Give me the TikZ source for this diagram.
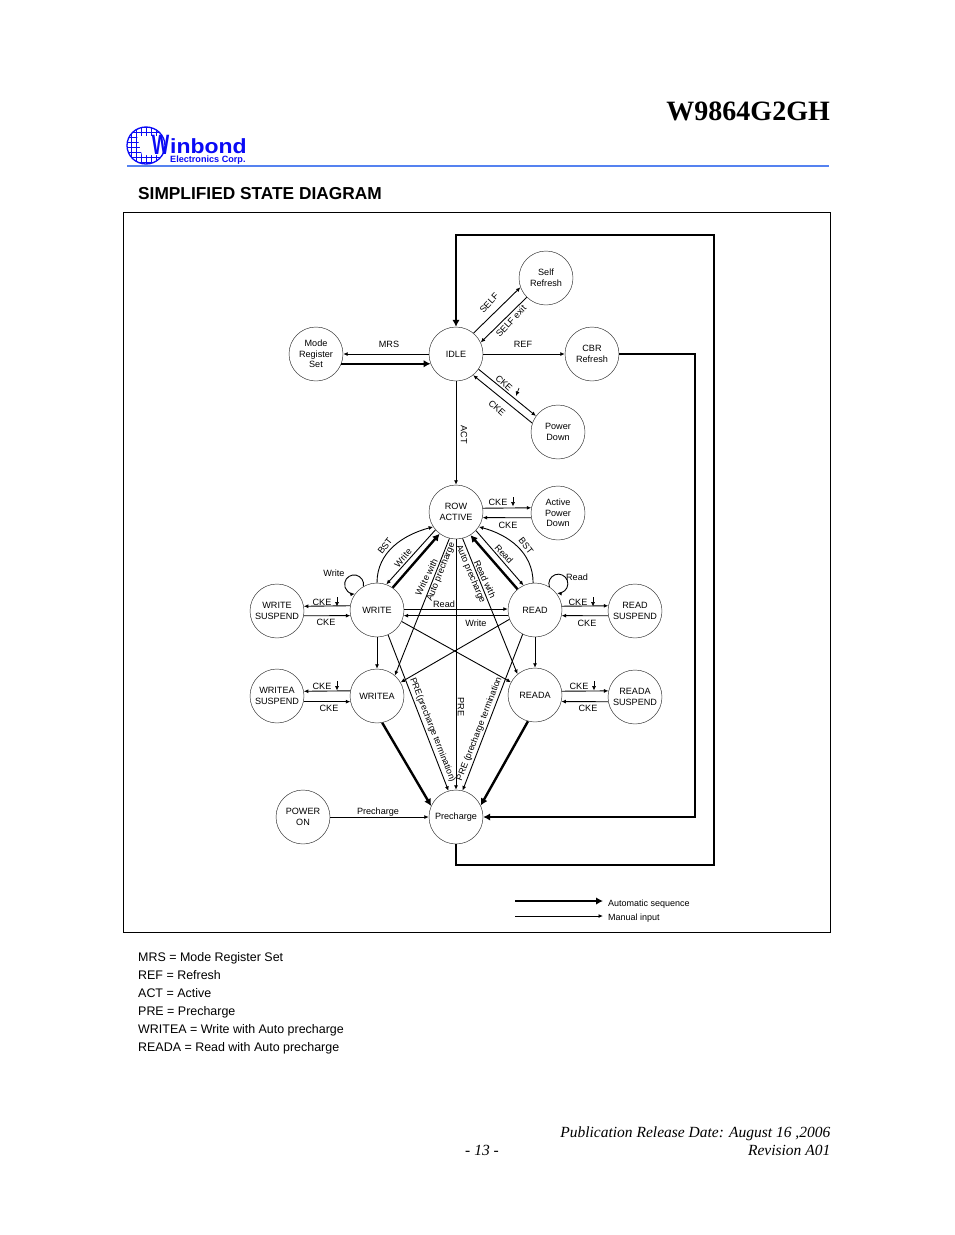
\documentclass[tikz,border=0pt]{standalone}
\usepackage{fontspec}
\setmainfont{Liberation Sans}
\newfontfamily\timesfont{Liberation Serif}
\usetikzlibrary{arrows.meta}
\definecolor{logoBlue}{RGB}{10,10,245}
\definecolor{ruleBlue}{RGB}{85,130,240}

\begin{document}
\begin{tikzpicture}
[x=1pt,y=-1pt,
  stateDecorate/.style={shape=circle,minimum size=54pt,inner sep=0pt,draw=black!85,line width=0.45pt,align=center,font=\fontsize{9.1}{10.7}\selectfont},%
  labelDecorate/.style={inner sep=0pt,font=\fontsize{9.1}{10.7}\selectfont},%
  pageDecorate/.style={inner sep=0pt,anchor=base west},%
  lineDecorate/.style={-{Latex[length=4.5pt,width=4pt]},line width=0.9pt},%
  thickDecorate/.style={-{Latex[length=7pt,width=7.5pt]},line width=2.4pt}]
\useasboundingbox (0,0) rectangle (954,1235);
%% page furniture
\node[pageDecorate,anchor=base east,font=\timesfont\bfseries\fontsize{28}{30}\selectfont] (title) at (830,120) {W9864G2GH};
\node[pageDecorate,font=\bfseries\fontsize{17.3}{20}\selectfont] (heading) at (138,199) {SIMPLIFIED STATE DIAGRAM};
\draw[ruleBlue,line width=1.2pt] (127,166) -- (829,166);
\draw[line width=0.8pt] (123.5,212) rectangle (830.5,932.5);
%% logo
\begin{scope}
\clip (146,145.5) ellipse (19 and 18.5);
\foreach \i in {0,...,8}
{
  \draw[logoBlue,line width=0.7pt] (126+5*\i,126) -- (126+5*\i,166);
  \draw[logoBlue,line width=0.7pt] (126,127+5*\i) -- (168,127+5*\i);
}
\fill[white] (137,136) -- (168,136) -- (168,155) -- (142,155) -- cycle;
\end{scope}
\draw[logoBlue,line width=1.3pt] (146,145.5) ellipse (19 and 18.5);
\node[inner sep=0pt,text=logoBlue,xscale=0.66,font=\bfseries\fontsize{28}{28}\selectfont] (logoW) at (160.5,145) {W};
\node[pageDecorate,text=logoBlue,xscale=1.12,font=\bfseries\fontsize{20.5}{21}\selectfont] (logoName) at (170,153) {inbond};
\node[pageDecorate,text=logoBlue,font=\bfseries\fontsize{9.1}{9}\selectfont] (logoCorp) at (170,162) {Electronics Corp.};
%% nodes or vertices
\foreach \nodename/\x/\y/\nodetext in {self/546/278/{Self\\Refresh}, mode/316/354/{Mode\\Register\\Set},
  idle/456/354/IDLE, cbr/592/354/{CBR\\Refresh}, down/558/432/{Power\\Down},
  row/456/512/{ROW\\ACTIVE}, apd/558/513/{Active\\Power\\Down},
  write/377/610/WRITE, wsus/277/611/{WRITE\\SUSPEND}, read/535/610/READ, rsus/635/611/{READ\\SUSPEND},
  writea/377/696/WRITEA, wasus/277/696/{WRITEA\\SUSPEND}, reada/535/695/READA, rasus/635/697/{READA\\SUSPEND},
  pre/456/817/Precharge, on/303/817/{POWER\\ON}}
{
  \node (\nodename) at (\x,\y) [stateDecorate] {\nodetext};
}
%% corners of the long lines and ends of the key
\foreach \nodename/\x/\y in {c1/456/865, c2/714/865, c3/714/235, c4/456/235, c5/695/354, c6/695/817,
  k1/515/901, k2/603/901, k3/515/916, k4/603/916}
{
  \coordinate (\nodename) at (\x,\y);
}
%% thin edges
\path
\foreach \startnode/\endnode in {idle.west/mode.east, idle.50/self.200, self.225/idle.25, idle.east/cbr.west,
  idle.-34/down.144.5, down.161/idle.-51, idle.south/row.north, row.8.4/apd.169.5, apd.190.5/row.-12.5,
  write.171.6/wsus.10.5, wsus.-10.5/write.192.5, read.8.4/rsus.169.5, rsus.190.5/read.-12.5,
  writea.169.5/wasus.10.5, wasus.-12.5/writea.192.5, reada.8.5/rasus.167.5, rasus.190.5/reada.-14.5,
  row.221/write.70, row.-43.6/read.115, row.256/writea.49, row.-76/reada.130.6,
  write.2/read.178, read.192.5/write.-12.5, read.200/writea.30.6, write.-25/reada.152.5,
  row.south/pre.north, write.south/writea.north, read.south/reada.north,
  write.-66/pre.106, read.243.5/pre.76.5, on.east/pre.west, k3/k4}
{
  (\startnode) edge[lineDecorate] (\endnode)
};
%% thick edges
\path
\foreach \startnode/\endnode in {mode.-21/idle.201, write.55/row.233.5, read.130.6/row.-58,
  writea.-79.5/pre.156, reada.255/pre.25.6, k1/k2}
{
  (\startnode) edge[thickDecorate] (\endnode)
};
\draw[thickDecorate,line width=2pt] (pre.south) -- (c1) -- (c2) -- (c3) -- (c4) -- (idle.north);
\draw[thickDecorate,line width=2pt] (cbr.east) -- (c5) -- (c6) -- (pre.east);
%% curved edges
\draw[lineDecorate] (write.north) to[out=90,in=195] (row.213);
\draw[lineDecorate] (read.94) to[out=90,in=-15] (row.-33);
\draw[lineDecorate] (write.120) arc[start angle=-12,end angle=275,radius=9.5pt];
\draw[lineDecorate] (read.58) arc[start angle=200,end angle=-97,radius=9.5pt];
%% labels
\foreach \nodename/\x/\y/\angle/\labeltext in {lmrs/389/344/0/MRS, lref/523/344/0/REF, lself/489/303/47/SELF,
  lexit/511/321/47/SELF exit, lcked/504/383/-42/CKE, lckeu/497/408/-42/CKE, lact/464/435/-90/ACT,
  lapd/508/525/0/CKE, lbstw/385/546/52/BST, lwrw/403/558/50/Write, lwrwa/426.5/577/64/Write with,
  lautow/441/572/68/Auto precharge, lautor/470.5/574/-67/Auto precharge, lrdwa/485/579/-65/Read with,
  lrdr/504/554/-47/Read, lbstr/526/546/-52/BST, lwloop/334/573/0/Write, lrloop/577/577/0/Read,
  lwsus/326/622/0/CKE, lrsus/587/623/0/CKE, lwasus/329/708/0/CKE, lrasus/588/708/0/CKE,
  lrd/444/604/0/Read, lwr/476/623/0/Write, lpre/461/707/-90/PRE, lon/378/812/0/Precharge}
{
  \node (\nodename) at (\x,\y) [labelDecorate,rotate=\angle] {\labeltext};
}
\node (lprew) at (432.5,730) [labelDecorate,rotate=-68.5,font=\fontsize{8.9}{10}\selectfont] {PRE(precharge termination)};
\node (lprer) at (479.5,729) [labelDecorate,rotate=68.7,font=\fontsize{8.9}{10}\selectfont] {PRE (precharge termination};
%% CKE falling labels with their small arrow
\foreach \nodename/\x/\y/\offs in {ck1/498/502/15, ck2/322/602/15, ck3/578/602/15, ck4/322/686/15, ck5/579/686/15}
{
  \node (\nodename) at (\x,\y) [labelDecorate] {CKE};
  \draw[lineDecorate,line width=0.7pt] ([shift={(\offs pt,5pt)}]\nodename.center) -- ([shift={(\offs pt,-4.5pt)}]\nodename.center);
}
\draw[lineDecorate,line width=0.7pt] ([shift={(15pt,-5pt)}]lcked.center) -- ([shift={(12pt,-13pt)}]lcked.center);
%% key
\node[pageDecorate,font=\fontsize{9}{10}\selectfont] (kauto) at (608,906) {Automatic sequence};
\node[pageDecorate,font=\fontsize{9}{10}\selectfont] (kman) at (608,920) {Manual input};
%% abbreviations
\foreach \nodename/\y/\abbr in {amrs/961/MRS = Mode Register Set, aref/979/REF = Refresh, aact/997/ACT = Active,
  apre/1015/PRE = Precharge, awra/1033/WRITEA = Write with Auto precharge, arda/1051/READA = Read with Auto precharge}
{
  \node[pageDecorate,font=\fontsize{12.45}{14}\selectfont] (\nodename) at (138,\y) {\abbr};
}
%% footer
\node[pageDecorate,anchor=base east,font=\timesfont\itshape\fontsize{15.5}{17}\selectfont] (date) at (830.5,1137) {Publication Release Date: August 16 ,2006};
\node[pageDecorate,anchor=base,font=\timesfont\itshape\fontsize{15.5}{17}\selectfont] (pageno) at (482,1155) {- 13 -};
\node[pageDecorate,anchor=base east,font=\timesfont\itshape\fontsize{15.5}{17}\selectfont] (rev) at (830.5,1155) {Revision A01};
\end{tikzpicture}
\end{document}
